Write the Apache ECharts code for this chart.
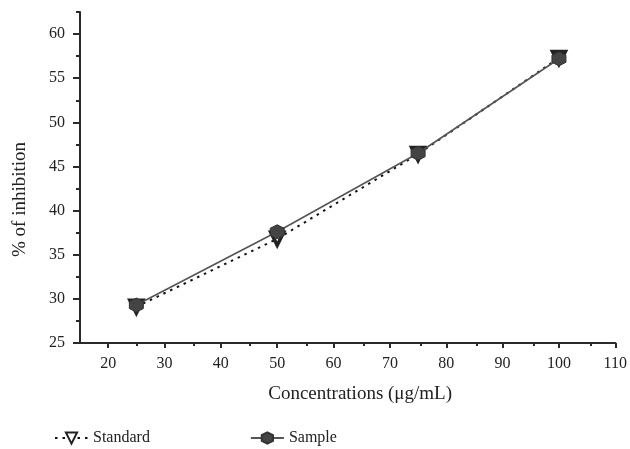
<!DOCTYPE html>
<html>
<head>
<meta charset="utf-8">
<script src="https://cdn.jsdelivr.net/npm/echarts@6/dist/echarts.min.js"></script>
<style>html,body{margin:0;padding:0;background:#fff}#c{width:630px;height:449px}</style>
</head>
<body>
<div id="c"></div>
<script>
const concentrations = [25, 50, 75, 100];
const standardValues = [29.1, 36.8, 46.4, 57.3];
const sampleValues = [29.3, 37.6, 46.5, 57.2];
const xMajorTicks = [20, 30, 40, 50, 60, 70, 80, 90, 100, 110];
const xMinorTicks = [25, 35, 45, 55, 65, 75, 85, 95, 105];
const yMajorTicks = [25, 30, 35, 40, 45, 50, 55, 60];
const yMinorTicks = [27.5, 32.5, 37.5, 42.5, 47.5, 52.5, 57.5, 62.5];

const FONT = 'Liberation Serif';
const AX = '#2a2a2a';
const gridBox = { left: 80, right: 11, top: 12, bottom: 106 };
const hexagon = 'path://M0,-10 L8.66,-5 L8.66,5 L0,10 L-8.66,5 L-8.66,-5 Z';

const chart = echarts.init(document.getElementById('c'), null, { renderer: 'canvas' });
chart.setOption({
  animation: false,
  backgroundColor: '#fff',
  grid: [
    Object.assign({}, gridBox),
    Object.assign({}, gridBox)
  ],
  xAxis: [{
    gridIndex: 0, type: 'value', min: 15, max: 110,
    name: 'Concentrations (μg/mL)', nameLocation: 'middle', nameGap: 42,
    nameTextStyle: { fontFamily: FONT, fontSize: 19, color: '#222', padding: [0, 0, 0, 25] },
    axisLine: { show: true, onZero: false, lineStyle: { color: AX, width: 2 } },
    axisTick: { show: true, length: 5, customValues: xMajorTicks, lineStyle: { color: AX, width: 2 } },
    axisLabel: { show: true, customValues: xMajorTicks, margin: 13, fontFamily: FONT, fontSize: 16, color: '#222' },
    splitLine: { show: false }
  }, {
    gridIndex: 1, type: 'value', min: 15, max: 110,
    axisLine: { show: false },
    axisTick: { show: true, length: 3, customValues: xMinorTicks, lineStyle: { color: AX, width: 2 } },
    axisLabel: { show: false },
    splitLine: { show: false }
  }],
  yAxis: [{
    gridIndex: 0, type: 'value', min: 25, max: 62.5,
    name: '% of inhibition', nameLocation: 'middle', nameGap: 50, nameRotate: 90,
    nameTextStyle: { fontFamily: FONT, fontSize: 19, color: '#222', padding: [0, 44, 0, 0] },
    axisLine: { show: true, onZero: false, lineStyle: { color: AX, width: 2 } },
    axisTick: { show: true, length: 7, customValues: yMajorTicks, lineStyle: { color: AX, width: 2 } },
    axisLabel: { show: true, customValues: yMajorTicks, margin: 15, fontFamily: FONT, fontSize: 16, color: '#222' },
    splitLine: { show: false }
  }, {
    gridIndex: 1, type: 'value', min: 25, max: 62.5,
    axisLine: { show: false },
    axisTick: { show: true, length: 4, customValues: yMinorTicks, lineStyle: { color: AX, width: 2 } },
    axisLabel: { show: false },
    splitLine: { show: false }
  }],
  legend: {
    left: 49, top: 425, itemWidth: 33, itemHeight: 14, itemGap: 100,
    textStyle: { fontFamily: FONT, fontSize: 16, color: '#222' },
    data: ['Standard', 'Sample']
  },
  series: [{
    name: 'Standard', type: 'line', xAxisIndex: 0, yAxisIndex: 0,
    data: concentrations.map((c, i) => [c, standardValues[i]]),
    symbol: 'triangle', symbolRotate: 180, symbolSize: 13,
    itemStyle: { color: '#fff', borderColor: '#222', borderWidth: 3.5 },
    lineStyle: { color: '#111', width: 2, type: [2.5, 5] },
    z: 2
  }, {
    name: 'Sample', type: 'line', xAxisIndex: 0, yAxisIndex: 0,
    data: concentrations.map((c, i) => [c, sampleValues[i]]),
    symbol: hexagon, symbolSize: 14,
    itemStyle: { color: '#444', borderColor: '#333', borderWidth: 1 },
    lineStyle: { color: '#555', width: 1.6, type: 'solid' },
    z: 3
  }]
});
</script>
</body>
</html>
